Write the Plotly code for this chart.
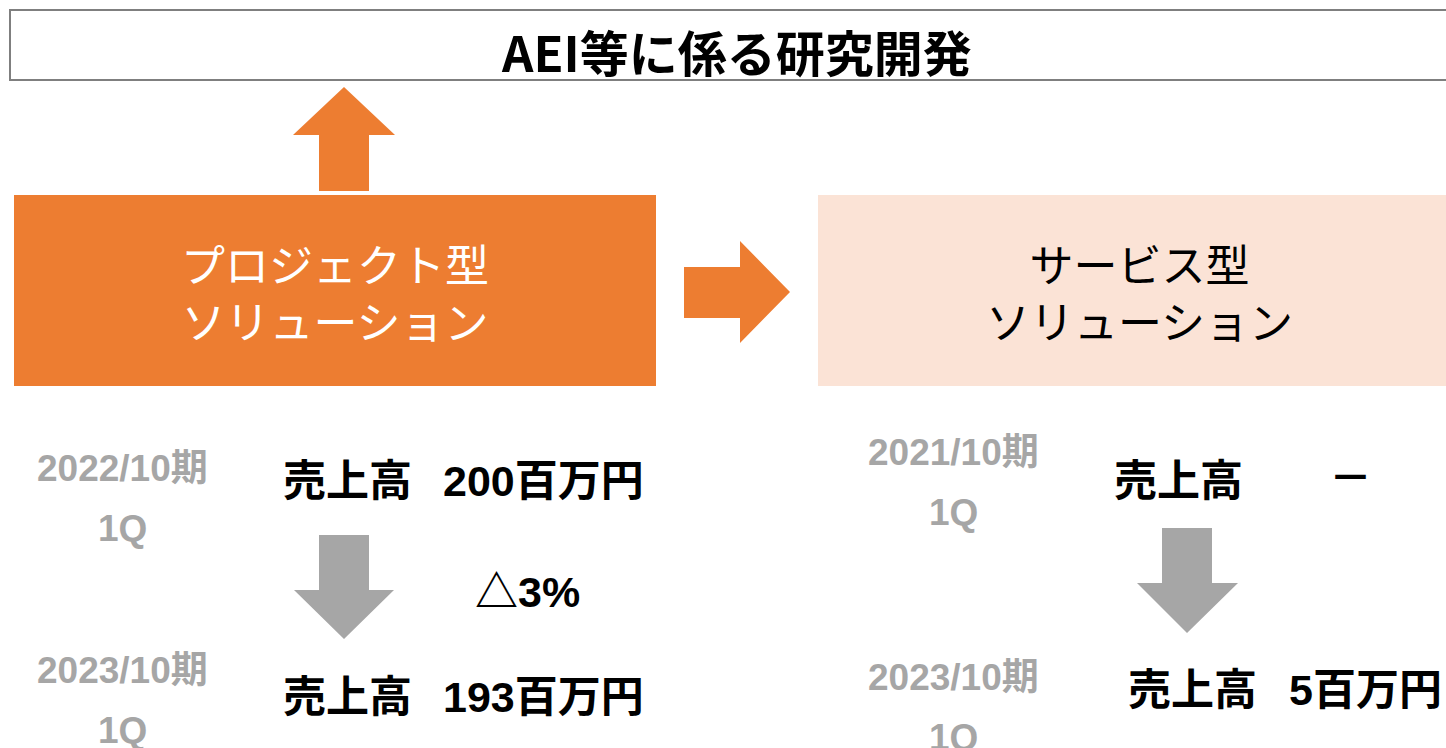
import plotly.graph_objects as go

# ---- content ----
title_text = "AEI等に係る研究開発"
box_labels = ["プロジェクト型<br>ソリューション", "サービス型<br>ソリューション"]
sales_label = "売上高"
periods_left = ["2022/10期", "2023/10期"]
sales_left = ["200百万円", "193百万円"]
change_left = "△3%"
periods_right = ["2021/10期", "2023/10期"]
sales_right = ["－", "5百万円"]
quarter = "1Q"

# ---- styles ----
ORANGE = "#ED7D31"
LIGHT = "#FBE3D6"
GRAY = "#A6A6A6"
FONT = "Liberation Sans, Arial, Noto Sans CJK JP"
JFONT = "Noto Sans CJK JP"
W, H = 1446, 748

fig = go.Figure()
fig.add_trace(go.Scatter(x=[0, W], y=[0, H], mode="markers",
                         marker=dict(opacity=0), hoverinfo="skip", showlegend=False))

shapes = []
shapes.append(dict(type="rect", x0=10, x1=1460, y0=10, y1=80,
                   line=dict(color="#7F7F7F", width=2), fillcolor="white"))
shapes.append(dict(type="rect", x0=14, x1=656, y0=195, y1=386,
                   line=dict(width=0), fillcolor=ORANGE))
shapes.append(dict(type="rect", x0=818, x1=1460, y0=195, y1=386,
                   line=dict(width=0), fillcolor=LIGHT))

def path(pts):
    return "M " + " L ".join(f"{x},{y}" for x, y in pts) + " Z"

shapes.append(dict(type="path", path=path([(319, 191), (319, 135), (293, 135), (344, 87),
                                           (395, 135), (369, 135), (369, 191)]),
                   fillcolor=ORANGE, line=dict(width=0)))
shapes.append(dict(type="path", path=path([(684, 267), (740, 267), (740, 241), (790, 292),
                                           (740, 343), (740, 318), (684, 318)]),
                   fillcolor=ORANGE, line=dict(width=0)))
shapes.append(dict(type="path", path=path([(319, 535), (369, 535), (369, 590), (394, 590),
                                           (344, 639), (294, 590), (319, 590)]),
                   fillcolor=GRAY, line=dict(width=0)))
shapes.append(dict(type="path", path=path([(1162, 528), (1212, 528), (1212, 583), (1238, 583),
                                           (1187, 633), (1137, 583), (1162, 583)]),
                   fillcolor=GRAY, line=dict(width=0)))

ann = []
def text(x, y, t, size, color="black", bold=True, xanchor="center", family=FONT):
    ann.append(dict(x=x, y=y, xref="x", yref="y", text=(f"<b>{t}</b>" if bold else t),
                    showarrow=False, xanchor=xanchor, yanchor="middle",
                    font=dict(family=family, size=size, color=color)))

text(736, 50, title_text, 49, family=JFONT)
ann.append(dict(x=335, y=295, xref="x", yref="y", text=box_labels[0], showarrow=False,
                font=dict(family=FONT, size=44, color="white"), align="center",
                xanchor="center", yanchor="middle"))
ann.append(dict(x=1139, y=295, xref="x", yref="y", text=box_labels[1], showarrow=False,
                font=dict(family=FONT, size=44, color="black"), align="center",
                xanchor="center", yanchor="middle"))

GS, SS = 37, 43
text(122, 468, periods_left[0], GS, GRAY)
text(122, 528, quarter, GS, GRAY)
text(122, 670, periods_left[1], GS, GRAY)
text(122, 730, quarter, GS, GRAY)
text(347, 481, sales_label, SS)
text(441, 481, sales_left[0], SS, xanchor="left")
text(527, 592, change_left, SS)
text(347, 697, sales_label, SS)
text(441, 697, sales_left[1], SS, xanchor="left")

text(953, 452, periods_right[0], GS, GRAY)
text(953, 512, quarter, GS, GRAY)
text(953, 677, periods_right[1], GS, GRAY)
text(953, 737, quarter, GS, GRAY)
text(1178, 481, sales_label, SS)
text(1350, 478, sales_right[0], SS)
text(1192, 690, sales_label, SS)
text(1287, 690, sales_right[1], SS, xanchor="left")

fig.update_layout(
    width=W, height=H, margin=dict(l=0, r=0, t=0, b=0),
    paper_bgcolor="white", plot_bgcolor="white",
    xaxis=dict(range=[0, W], visible=False, fixedrange=True),
    yaxis=dict(range=[H, 0], visible=False, fixedrange=True),
    shapes=shapes, annotations=ann, showlegend=False,
)
fig.write_html("out.html", config={"displayModeBar": False},
               post_script="document.body.style.margin='0';document.body.style.overflow='hidden';")
